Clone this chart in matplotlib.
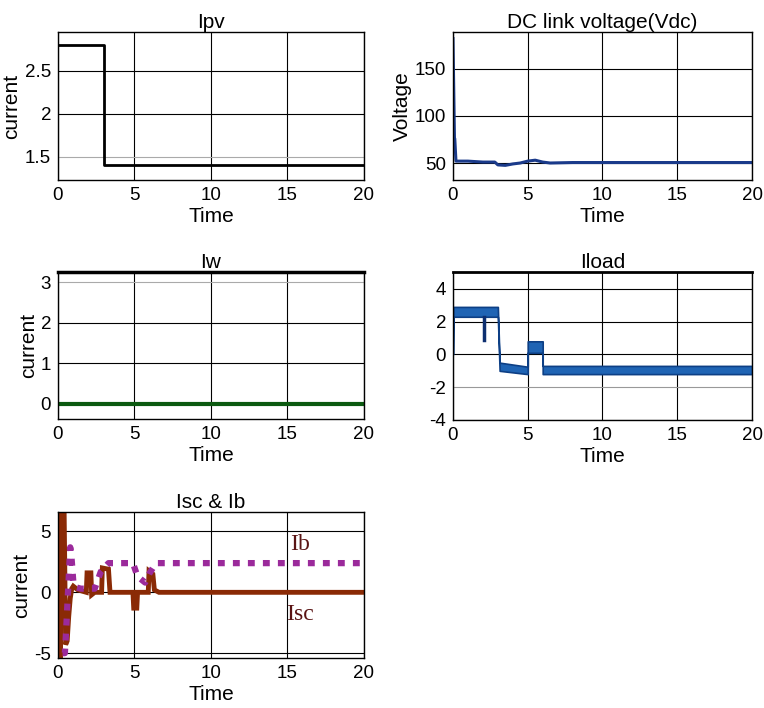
import matplotlib
matplotlib.use("Agg")
import matplotlib.pyplot as plt
import numpy as np

plt.rcParams['font.family'] = ['Liberation Sans', 'DejaVu Sans']
plt.rcParams['axes.unicode_minus'] = False

# ---- data ----
ipv_t = [0, 3, 3, 20]
ipv_v = [2.8, 2.8, 1.4, 1.4]

vdc_t = [0, 0.05, 0.1, 0.12, 0.2, 1, 2, 2.8, 3.0, 3.5, 4, 4.5, 5, 5.5, 6, 6.5, 8, 10, 15, 20]
vdc_v = [182, 130, 76, 76, 52, 52, 51, 51, 48, 47.5, 49, 50, 52, 53, 51, 50, 50.5, 50.5, 50.5, 50.5]

iw_t = [0, 20]
iw_v = [0, 0]

iload_t = [0, 0.02, 3.0, 3.12, 5.0, 5.0, 6.0, 6.0, 20]
iload_hi = [0.0, 2.9, 2.9, -0.5, -0.75, 0.8, 0.8, -0.7, -0.7]
iload_lo = [0.0, 2.3, 2.3, -1.0, -1.2, 0.1, 0.1, -1.2, -1.2]
iload_dip_t = [2.05, 2.05]
iload_dip_v = [2.3, 0.9]

isc_t = [0, 0.08, 0.15, 0.22, 0.3, 0.4, 0.5, 0.6, 0.7, 0.8, 0.9, 1.0, 1.3, 1.85, 1.9, 2.15, 2.2, 2.4,
         2.85, 2.9, 3.3, 3.4, 3.6, 4.9, 4.95, 5.15, 5.2, 5.9, 5.95, 6.2, 6.3, 6.6, 20]
isc_v = [-5.4, 6.8, -5.4, 6.8, 6.8, 6.8, -4.3, -4.0, -2.0, -0.5, 0.3, 0.5, 0.2, 0.0, 1.6, 1.6, -0.2, 0.0,
         0.0, 2.0, 1.9, 0.0, 0.0, 0.0, -1.3, -1.3, 0.0, 0.0, 1.75, 1.5, 0.2, 0.0, 0.0]

ib_t = [0.3, 0.45, 0.5, 0.8, 0.9, 1.0, 1.2, 1.5, 2.4, 2.8, 3.3, 4.9, 5.2, 5.7, 6.0, 6.4, 20]
ib_v = [-5.0, -5.0, -3.9, 3.7, 2.6, 0.9, 0.4, 0.3, 0.3, 1.7, 2.4, 2.4, 1.3, 0.8, 1.6, 2.4, 2.4]

xticks = [0, 5, 10, 15, 20]

fig = plt.figure(figsize=(7.64, 7.08), dpi=100)

def style(ax, title, ylabel, ylim, yticks, ytl=None, ypad=2):
    ax.set_xlim(0, 20)
    ax.set_ylim(*ylim)
    ax.set_xticks(xticks)
    ax.set_yticks(yticks)
    if ytl is not None:
        ax.set_yticklabels(ytl)
    ax.grid(True, color='black', linewidth=0.8)
    ax.set_axisbelow(True)
    ax.set_title(title, fontsize=15, pad=3)
    ax.set_xlabel('Time', fontsize=15, labelpad=2)
    if ylabel:
        ax.set_ylabel(ylabel, fontsize=15, labelpad=ypad)
    ax.tick_params(labelsize=13.5, length=0, pad=5)
    for s in ax.spines.values():
        s.set_linewidth(1.0)

# Ipv
ax1 = fig.add_axes([0.0759, 0.7458, 0.4005, 0.209])
ax1.plot(ipv_t, ipv_v, color='black', lw=2)
style(ax1, 'Ipv', 'current', (1.23, 2.95), [1.5, 2, 2.5], ['1.5', '2', '2.5'], ypad=3)
ax1.get_ygridlines()[0].set_color('#aaaaaa')

# DC link voltage
ax2 = fig.add_axes([0.5929, 0.7458, 0.3914, 0.209])
ax2.plot(vdc_t, vdc_v, color='#1a3a8a', lw=2.2)
style(ax2, 'DC link voltage(Vdc)', 'Voltage', (32, 189), [50, 100, 150])

# Iw
ax3 = fig.add_axes([0.0759, 0.4082, 0.4005, 0.2076])
ax3.plot(iw_t, iw_v, color='#0b5a10', lw=3)
style(ax3, 'Iw', 'current', (-0.37, 3.25), [0, 1, 2, 3])
ax3.get_ygridlines()[3].set_color('#aaaaaa')
ax3.spines['top'].set_linewidth(2.5)

# Iload
ax4 = fig.add_axes([0.5929, 0.4068, 0.3914, 0.209])
ax4.fill_between(iload_t, iload_lo, iload_hi, color='#1f64b4', edgecolor='#0d3f85', lw=1.2)
ax4.plot(iload_dip_t, iload_dip_v, color='#0d2f70', lw=2.5)
style(ax4, 'Iload', None, (-4, 5.03), [-4, -2, 0, 2, 4])
ax4.get_ygridlines()[1].set_color('#999999')
ax4.spines['top'].set_linewidth(2.0)

# Isc & Ib
ax5 = fig.add_axes([0.0759, 0.0706, 0.4005, 0.2062])
ax5.plot(isc_t, isc_v, color='#8a2a05', lw=3.5, solid_joinstyle='miter')
ax5.plot(ib_t, ib_v, color='#9b2a9b', lw=4.5, linestyle=(0, (1.1, 1.3)))
style(ax5, 'Isc & Ib', 'current', (-5.4, 6.6), [-5, 0, 5])
ax5.text(15.8, 3.9, 'Ib', fontsize=17, family=['Liberation Serif', 'DejaVu Serif'],
         color='#5a1414', ha='center', va='center')
ax5.text(15.8, -1.8, 'Isc', fontsize=17, family=['Liberation Serif', 'DejaVu Serif'],
         color='#5a1414', ha='center', va='center')

fig.savefig('out.png', dpi=100)
